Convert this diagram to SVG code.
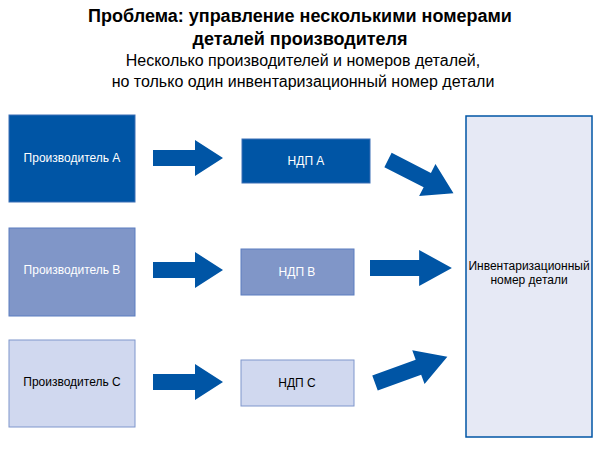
<svg xmlns="http://www.w3.org/2000/svg" width="600" height="454" viewBox="0 0 600 454">
<style>
text{font-family:"Liberation Sans",Arial,sans-serif;text-anchor:middle}
.t{font-size:18px;font-weight:bold;fill:#000}
.s{font-size:16px;fill:#000}
.l{font-size:12px;fill:#fff}
.d{font-size:12px;fill:#000}
.a{fill:#0055A5}
</style>
<defs><path id="arr" d="M0,-8 H42 V-18 L70,0 L42,18 V8 H0 Z"/></defs>
<text class="t" x="300" y="22">Проблема: управление несколькими номерами</text>
<text class="t" x="300" y="45">деталей производителя</text>
<text class="s" x="303" y="66">Несколько производителей и номеров деталей,</text>
<text class="s" x="303" y="87">но только один инвентаризационный номер детали</text>
<g id="mA"><rect x="9" y="115" width="126" height="87" fill="#0055A5" stroke="#3a6fb5"/><text class="l" x="72" y="162">Производитель А</text></g>
<g id="mB"><rect x="9" y="228" width="126" height="88" fill="#8096C8" stroke="#5b7cc0"/><text class="l" x="72" y="274">Производитель B</text></g>
<g id="mC"><rect x="9" y="340" width="126" height="87" fill="#D0D8EF" stroke="#7f96cc"/><text class="d" x="72" y="386">Производитель C</text></g>
<g id="nA"><rect x="242" y="139" width="128" height="44" fill="#0055A5" stroke="#3a6fb5"/><text class="l" x="306" y="165">НДП А</text></g>
<g id="nB"><rect x="241" y="249" width="113" height="46" fill="#8096C8" stroke="#5b7cc0"/><text class="l" x="297" y="276">НДП B</text></g>
<g id="nC"><rect x="241" y="360" width="113" height="46" fill="#D0D8EF" stroke="#7f96cc"/><text class="d" x="297" y="387">НДП C</text></g>
<g id="inv"><rect x="466" y="116" width="126" height="321" fill="#E6E9F5" stroke="#0055A5" stroke-width="1.5"/><text class="d" x="529" y="270">Инвентаризационный</text><text class="d" x="529" y="284">номер детали</text></g>
<g id="connectors" class="a">
<use href="#arr" transform="translate(153,158)"/>
<use href="#arr" transform="translate(153,270)"/>
<use href="#arr" transform="translate(153,382)"/>
<use href="#arr" transform="translate(388,160) rotate(27) scale(1.05,1)"/>
<use href="#arr" transform="translate(370,268) scale(1.17,1)"/>
<use href="#arr" transform="translate(375,383) rotate(-20) scale(1.1,1)"/>
</g>
</svg>
